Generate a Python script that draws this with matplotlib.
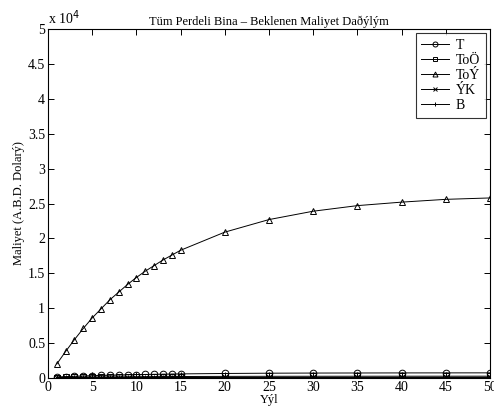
import matplotlib
matplotlib.use("Agg")
import matplotlib.pyplot as plt
from matplotlib.ticker import FuncFormatter, MultipleLocator

years = [1, 2, 3, 4, 5, 6, 7, 8, 9, 10, 11, 12, 13, 14, 15, 20, 25, 30, 35, 40, 45, 50]
T = [150, 200, 250, 290, 330, 370, 400, 430, 460, 490, 510, 530, 550, 570, 590, 650, 690, 710, 720, 730, 735, 740]
ToO = [60, 80, 100, 115, 130, 145, 155, 165, 175, 185, 195, 200, 205, 210, 215, 235, 245, 250, 255, 258, 260, 262]
ToY = [2000, 3800, 5500, 7100, 8600, 9900, 11200, 12300, 13400, 14400, 15300, 16100, 16900, 17600, 18300,
       20900, 22700, 23900, 24700, 25200, 25600, 25800]
YK = [20, 30, 40, 45, 50, 55, 60, 62, 65, 68, 70, 72, 74, 76, 78, 85, 90, 92, 94, 95, 96, 97]
B = [10, 15, 20, 25, 28, 30, 32, 34, 36, 38, 40, 41, 42, 43, 44, 48, 50, 52, 53, 54, 55, 55]
labels = ["T", "ToÖ", "ToÝ", "ÝK", "B"]

plt.rcParams['font.family'] = ['Liberation Serif', 'DejaVu Serif']
fig = plt.figure(figsize=(4.94, 4.12), dpi=100)
ax = fig.add_axes([0.097, 0.0825, 0.895, 0.847])

series = [T, ToO, ToY, YK, B]
markers = ['o', 's', '^', 'x', '+']
for s, m, lab in zip(series, markers, labels):
    ax.plot(years, s, color='black', lw=0.7, marker=m, markersize=4.8,
            markerfacecolor='none', markeredgecolor='black', markeredgewidth=0.7, label=lab)

ax.set_xlim(0, 50)
ax.set_ylim(0, 50000)
ax.xaxis.set_major_locator(MultipleLocator(5))
ax.yaxis.set_major_locator(MultipleLocator(5000))
ax.yaxis.set_major_formatter(FuncFormatter(lambda v, p: f"{v/1e4:g}"))
ax.tick_params(direction='in', top=True, right=True, labelsize=10, length=4, width=0.7, pad=2)
for sp in ax.spines.values():
    sp.set_linewidth(0.8)

ax.text(0.0, 1.005, r"x 10$^4$", transform=ax.transAxes, fontsize=10, ha='left', va='bottom')
ax.set_title("Tüm Perdeli Bina – Beklenen Maliyet Daðýlým", fontsize=9, pad=3)
ax.set_xlabel("Yýl", fontsize=9, labelpad=0)
ax.set_ylabel("Maliyet (A.B.D. Dolarý)", fontsize=9, labelpad=2)

leg = ax.legend(loc='upper right', fontsize=10, frameon=True, fancybox=False, edgecolor='black',
                handlelength=2.0, borderpad=0.4, labelspacing=0.15, handletextpad=0.5,
                borderaxespad=0.3, markerscale=0.75)
leg.get_frame().set_linewidth(0.8)

fig.savefig("out.png", dpi=100)
